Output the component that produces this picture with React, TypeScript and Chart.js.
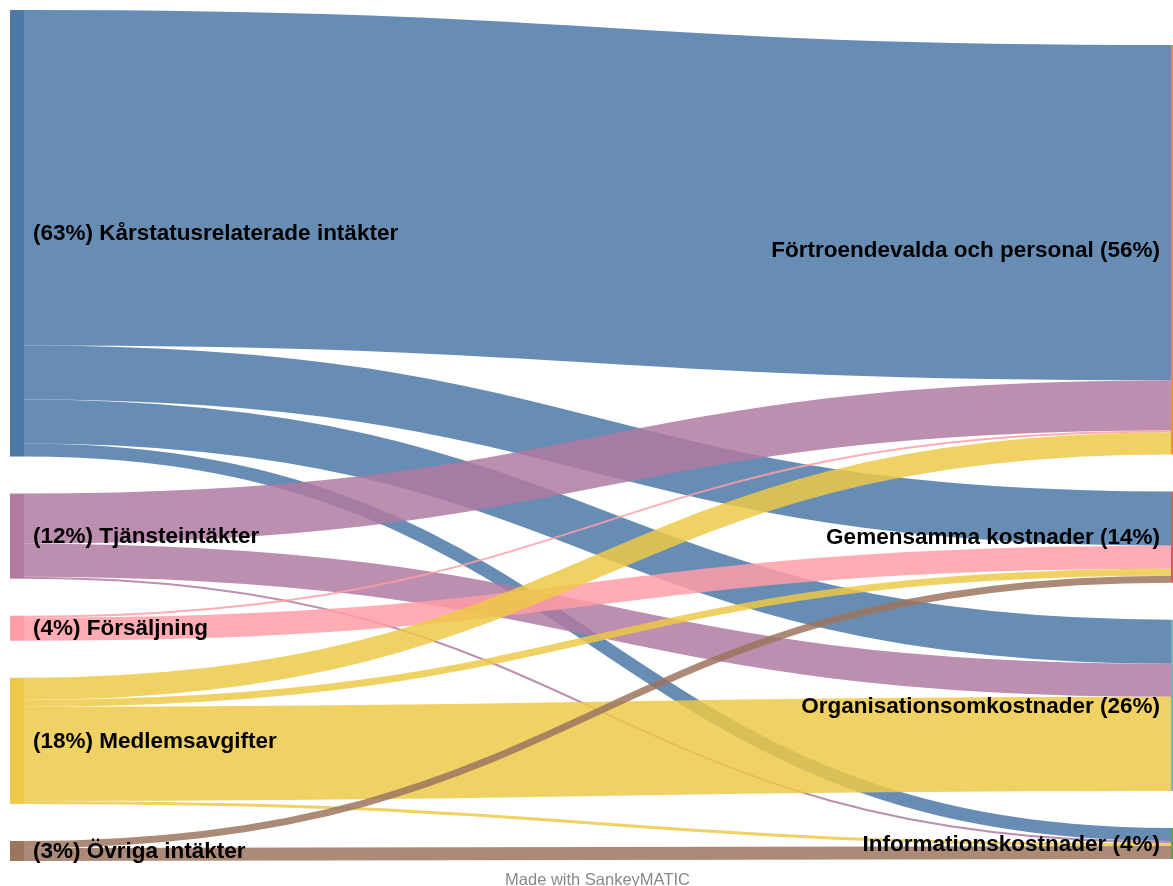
import React, { useEffect, useRef } from "react";
import { Chart, registerables } from "chart.js";

Chart.register(...registerables);

// ---- Data ----
const sourceNames = [
  "(63%) Kårstatusrelaterade intäkter",
  "(12%) Tjänsteintäkter",
  "(4%) Försäljning",
  "(18%) Medlemsavgifter",
  "(3%) Övriga intäkter",
];
const targetNames = [
  "Förtroendevalda och personal (56%)",
  "Gemensamma kostnader (14%)",
  "Organisationsomkostnader (26%)",
  "Informationskostnader (4%)",
];
const sourceColors = ["#4e79a7", "#b07aa1", "#ff9da7", "#edc948", "#9c755f"];
const targetColors = ["#f28e2b", "#e15759", "#76b7b2", "#59a14f"];

// flows: source index, target index, value
const flowFrom = [0, 0, 0, 0, 1, 1, 1, 2, 2, 3, 3, 3, 3, 4, 4];
const flowTo = [0, 1, 2, 3, 0, 2, 3, 0, 1, 0, 1, 2, 3, 1, 3];
const flowValues = [335, 54, 44, 13, 50, 33, 2, 2, 23, 22, 7, 94, 3, 7, 13];

const NODE_GAP = 37; // value units between nodes in a column
const RIGHT_OFFSET = 35; // value units the right column starts lower
const NODE_WIDTH = 14;
const LABEL_GAP_LEFT = 9;
const LABEL_GAP_RIGHT = 11;
const FLOW_ALPHA = 0.85;

function hexToRgba(hex: string, a: number) {
  const n = parseInt(hex.slice(1), 16);
  return `rgba(${(n >> 16) & 255},${(n >> 8) & 255},${n & 255},${a})`;
}

function layout() {
  const srcTotals = sourceNames.map((_, i) =>
    flowValues.reduce((s, v, k) => (flowFrom[k] === i ? s + v : s), 0)
  );
  const tgtTotals = targetNames.map((_, j) =>
    flowValues.reduce((s, v, k) => (flowTo[k] === j ? s + v : s), 0)
  );
  const srcTop: number[] = [];
  let acc = 0;
  srcTotals.forEach((t, i) => {
    srcTop[i] = acc;
    acc += t + NODE_GAP;
  });
  const tgtTop: number[] = [];
  let acc2 = RIGHT_OFFSET;
  tgtTotals.forEach((t, j) => {
    tgtTop[j] = acc2;
    acc2 += t + NODE_GAP;
  });
  const sy: number[] = [];
  const ty: number[] = [];
  sourceNames.forEach((_, i) => {
    let off = srcTop[i];
    const idx = flowValues.map((_, k) => k).filter((k) => flowFrom[k] === i);
    idx.sort((a, b) => flowTo[a] - flowTo[b]);
    idx.forEach((k) => {
      sy[k] = off;
      off += flowValues[k];
    });
  });
  targetNames.forEach((_, j) => {
    let off = tgtTop[j];
    const idx = flowValues.map((_, k) => k).filter((k) => flowTo[k] === j);
    idx.sort((a, b) => flowFrom[a] - flowFrom[b]);
    idx.forEach((k) => {
      ty[k] = off;
      off += flowValues[k];
    });
  });
  const total = acc - NODE_GAP;
  return { srcTotals, tgtTotals, srcTop, tgtTop, sy, ty, total };
}

const L = layout();

const sankeyPlugin = {
  id: "sankeyPlugin",
  beforeDatasetsDraw(chart: any) {
    const { ctx } = chart;
    const x = chart.scales.x;
    const y = chart.scales.y;
    const xL = x.getPixelForValue(0);
    const xR = x.getPixelForValue(1);
    const x0 = xL + NODE_WIDTH;
    const x1 = xR - NODE_WIDTH;
    const xm = (x0 + x1) / 2;
    const px = (v: number) => y.getPixelForValue(v);

    ctx.save();
    // flows
    flowValues.forEach((v, k) => {
      const w = Math.abs(px(v) - px(0));
      const yA = px(L.sy[k] + v / 2);
      const yB = px(L.ty[k] + v / 2);
      ctx.beginPath();
      ctx.moveTo(x0, yA);
      ctx.bezierCurveTo(xm, yA, xm, yB, x1, yB);
      ctx.lineWidth = w;
      ctx.lineCap = "butt";
      ctx.strokeStyle = hexToRgba(sourceColors[flowFrom[k]], FLOW_ALPHA);
      ctx.stroke();
    });
    // nodes
    L.srcTotals.forEach((t, i) => {
      const top = px(L.srcTop[i]);
      const bot = px(L.srcTop[i] + t);
      ctx.fillStyle = sourceColors[i];
      ctx.fillRect(xL, top, NODE_WIDTH, bot - top);
    });
    L.tgtTotals.forEach((t, j) => {
      const top = px(L.tgtTop[j]);
      const bot = px(L.tgtTop[j] + t);
      ctx.fillStyle = targetColors[j];
      ctx.fillRect(x1, top, NODE_WIDTH, bot - top);
    });
    // labels
    ctx.font = 'bold 22.5px "Liberation Sans", Arial, sans-serif';
    ctx.fillStyle = "#000";
    ctx.textBaseline = "middle";
    ctx.textAlign = "left";
    L.srcTotals.forEach((t, i) => {
      const c = px(L.srcTop[i] + t / 2);
      ctx.fillText(sourceNames[i], x0 + LABEL_GAP_LEFT, c + 1);
    });
    ctx.textAlign = "right";
    L.tgtTotals.forEach((t, j) => {
      const c = px(L.tgtTop[j] + t / 2);
      ctx.fillText(targetNames[j], x1 - LABEL_GAP_RIGHT, c + 1);
    });
    // footer
    ctx.font = '16.5px "Liberation Sans", Arial, sans-serif';
    ctx.fillStyle = "#888";
    ctx.textAlign = "center";
    ctx.fillText("Made with SankeyMATIC", chart.width / 2, chart.chartArea.bottom + 19);
    ctx.restore();
  },
};

export default function App() {
  const ref = useRef<HTMLCanvasElement>(null);
  useEffect(() => {
    if (!ref.current) return;
    const chart = new Chart(ref.current, {
      type: "scatter",
      data: { datasets: [{ data: [] }] },
      options: {
        responsive: false,
        maintainAspectRatio: false,
        animation: false,
        layout: { padding: { left: 10, right: 10, top: 10, bottom: 25 } },
        plugins: { legend: { display: false }, tooltip: { enabled: false } },
        scales: {
          x: { type: "linear", min: 0, max: 1, display: false },
          y: { type: "linear", min: 0, max: L.total, reverse: true, display: false },
        },
      },
      plugins: [sankeyPlugin],
    });
    return () => chart.destroy();
  }, []);
  return (
    <div
      style={{
        position: "fixed",
        left: 0,
        top: 0,
        width: 1173,
        height: 886,
        overflow: "hidden",
        background: "#fff",
      }}
    >
      <canvas ref={ref} width={1195} height={886} style={{ width: 1195, height: 886, display: "block" }} />
    </div>
  );
}
